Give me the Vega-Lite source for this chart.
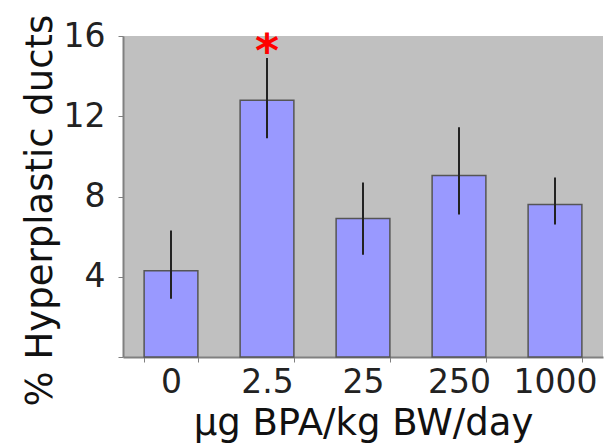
{
  "$schema": "https://vega.github.io/schema/vega-lite/v6.json",
  "autosize": "none",
  "width": 480,
  "height": 321,
  "padding": {"left": 123, "top": 36, "right": 2, "bottom": 89},
  "background": "white",
  "config": {
    "font": "DejaVu Sans",
    "view": {"fill": "#C0C0C0", "stroke": null}
  },
  "data": {
    "values": [
      {"dose": "0", "value": 4.3, "lo": 2.9, "hi": 6.3, "sig": ""},
      {"dose": "2.5", "value": 12.8, "lo": 10.9, "hi": 14.9, "sig": "*"},
      {"dose": "25", "value": 6.9, "lo": 5.1, "hi": 8.7, "sig": ""},
      {"dose": "250", "value": 9.05, "lo": 7.1, "hi": 11.45, "sig": ""},
      {"dose": "1000", "value": 7.6, "lo": 6.6, "hi": 8.95, "sig": ""}
    ]
  },
  "encoding": {
    "x": {
      "field": "dose",
      "type": "ordinal",
      "sort": null,
      "scale": {"paddingInner": 0.44, "paddingOuter": 0.22},
      "axis": {
        "title": "µg BPA/kg BW/day",
        "titleFontSize": 37,
        "titleFontWeight": "normal",
        "titleColor": "#111",
        "titlePadding": 6,
        "labelAngle": 0,
        "labelFontSize": 33,
        "labelColor": "#222",
        "labelPadding": 4,
        "tickBand": "extent",
        "tickSize": 5,
        "tickColor": "#808080",
        "domainColor": "#808080",
        "domainWidth": 2
      }
    }
  },
  "layer": [
    {
      "mark": {"type": "bar", "color": "#9999FF", "stroke": "#555555", "strokeWidth": 1.5},
      "encoding": {
        "y": {
          "field": "value",
          "type": "quantitative",
          "scale": {"domain": [0, 16], "nice": false},
          "axis": {
            "title": "% Hyperplastic ducts",
            "titleFontSize": 37,
            "titleFontWeight": "normal",
            "titleColor": "#111",
            "titlePadding": 4,
            "titleY": 174,
            "values": [0, 4, 8, 12, 16],
            "labelExpr": "datum.value == 0 ? '' : datum.label",
            "labelFontSize": 33,
            "labelColor": "#222",
            "labelPadding": 13,
            "tickSize": 5,
            "tickColor": "#808080",
            "domainColor": "#808080",
            "domainWidth": 2,
            "grid": false
          }
        }
      }
    },
    {
      "mark": {"type": "rule", "color": "#222222", "strokeWidth": 2},
      "encoding": {
        "y": {"field": "lo", "type": "quantitative"},
        "y2": {"field": "hi"}
      }
    },
    {
      "transform": [{"filter": "datum.sig != ''"}],
      "mark": {"type": "text", "color": "#FF0000", "fontSize": 46, "fontWeight": "bold", "baseline": "alphabetic", "dy": 9},
      "encoding": {
        "y": {"field": "hi", "type": "quantitative"},
        "text": {"field": "sig"}
      }
    }
  ]
}
